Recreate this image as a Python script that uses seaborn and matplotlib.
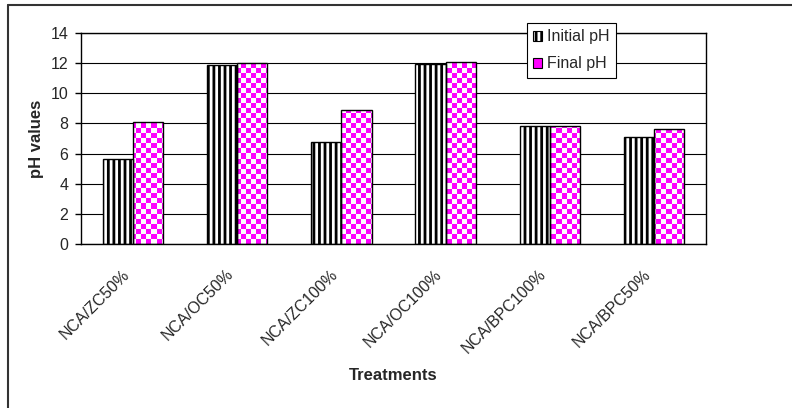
import matplotlib
matplotlib.use("Agg")
import matplotlib.pyplot as plt
import matplotlib.transforms as mtransforms
from matplotlib.patches import Patch
from matplotlib.lines import Line2D
import numpy as np
import pandas as pd
import seaborn as sns

treatments = ["NCA/ZC50%", "NCA/OC50%", "NCA/ZC100%", "NCA/OC100%", "NCA/BPC100%", "NCA/BPC50%"]
initial_ph = [5.65, 11.9, 6.8, 11.95, 7.85, 7.1]
final_ph = [8.1, 12.0, 8.9, 12.1, 7.85, 7.6]
series = ["Initial pH", "Final pH"]

df = pd.DataFrame({
    "Treatment": treatments * 2,
    "pH": initial_ph + final_ph,
    "Type": [series[0]] * len(treatments) + [series[1]] * len(treatments),
})

sns.set_style("white")
plt.rcParams["font.family"] = ["Liberation Sans", "DejaVu Sans"]
plt.rcParams["hatch.linewidth"] = 2.0

fig = plt.figure(figsize=(7.92, 4.08), dpi=100)
ax = fig.add_axes([81 / 792, 1 - 244 / 408, 625 / 792, 211 / 408])

sns.barplot(data=df, x="Treatment", y="pH", hue="Type", ax=ax,
            palette={"Initial pH": "white", "Final pH": "#FF00FF"},
            saturation=1, width=0.58, edgecolor="black", linewidth=1,
            legend=False)

# vertical stripes on the initial bars
for p in ax.containers[0]:
    p.set_hatch("|||")

# checkerboard on the final bars
cell = 5
ny, nx = int(211 / cell), int(625 / cell)
yy, xx = np.mgrid[0:ny, 0:nx]
check = ((xx + yy) % 2 == 0)
rgb = np.ones((ny, nx, 3))
rgb[check] = [1.0, 0.0, 1.0]
for p in ax.containers[1]:
    z = p.get_zorder()
    im = ax.imshow(rgb, extent=(0, 1, 0, 1), transform=ax.transAxes,
                   aspect="auto", interpolation="nearest", zorder=z - 0.01)
    im.set_clip_path(p)
    p.set_facecolor("none")

ax.set_xlim(-0.5, len(treatments) - 0.5)
ax.set_ylim(0, 14)
ax.set_yticks(np.arange(0, 15, 2))
ax.yaxis.grid(True, color="black", linewidth=0.8)
ax.set_axisbelow(True)
for s in ax.spines.values():
    s.set_color("black")
    s.set_linewidth(1)

ax.set_xticks(np.arange(-0.5, len(treatments)), labels=[])
ax.set_xticks(np.arange(len(treatments)), labels=treatments, minor=True)
ax.tick_params(axis="x", which="major", direction="out", length=4, width=1, color="black")
ax.tick_params(axis="x", which="minor", length=0, pad=20)
ax.tick_params(axis="y", direction="out", length=4, width=1, color="black",
               labelsize=11.5, pad=5, left=True)
shift = mtransforms.ScaledTranslation(-6 / 100, 0, fig.dpi_scale_trans)
for t in ax.get_xticklabels(minor=True):
    t.set_rotation(45)
    t.set_ha("right")
    t.set_va("center")
    t.set_rotation_mode("anchor")
    t.set_fontsize(11.5)
    t.set_transform(t.get_transform() + shift)

ax.set_xlabel("Treatments", fontsize=12, fontweight="bold", va="center")
ax.xaxis.set_label_coords(0.5, (244 - 376) / 211)
ax.set_ylabel("pH values", fontsize=12, fontweight="bold", va="center")
ax.yaxis.set_label_coords((37 - 81) / 625, 0.5)

handles = [Patch(facecolor="white", edgecolor="black", hatch="|||", linewidth=0.8),
           Patch(facecolor="#FF00FF", edgecolor="black", linewidth=0.8)]
leg = fig.legend(handles, series, loc="upper left",
                 bbox_to_anchor=(527 / 792, 1 - 23 / 408),
                 fancybox=False, framealpha=1, edgecolor="black", fontsize=11.5,
                 handlelength=0.55, handleheight=0.55, handletextpad=0.3,
                 borderpad=0.4, labelspacing=0.75, borderaxespad=0)
leg.get_frame().set_linewidth(0.8)

# outer chart frame
fig.add_artist(Line2D([8 / 792, 1], [1 - 5 / 408] * 2, transform=fig.transFigure,
                      color="#333333", linewidth=1.5))
fig.add_artist(Line2D([8 / 792] * 2, [0, 1 - 5 / 408], transform=fig.transFigure,
                      color="#333333", linewidth=1.5))

fig.savefig("out.png", dpi=100)
